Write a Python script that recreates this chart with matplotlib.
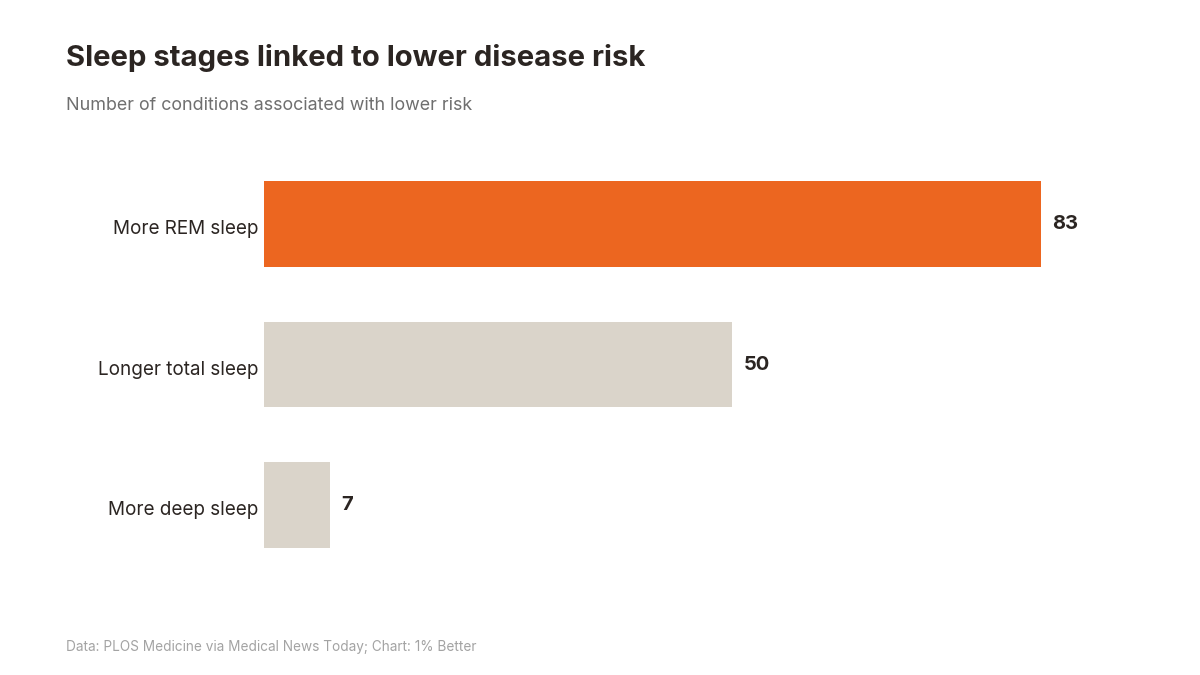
import matplotlib.pyplot as plt
from matplotlib.transforms import ScaledTranslation

categories = ['More REM sleep', 'Longer total sleep', 'More deep sleep']
values = [83, 50, 7]
bar_colors = ['#EC6620', '#DAD4CA', '#DAD4CA']

title = 'Sleep stages linked to lower disease risk'
subtitle = 'Number of conditions associated with lower risk'
source = 'Data: PLOS Medicine via Medical News Today; Chart: 1% Better'

plt.rcParams['font.family'] = ['Inter', 'DejaVu Sans']

fig = plt.figure(figsize=(12, 6.75), dpi=100)
fig.patch.set_facecolor('white')

# axes placed so the bars start at ~264px and 83 ends at ~1041px
ax = fig.add_axes([0.22, 0.1478, 0.6475, 0.6244])
pos = list(range(len(categories)))
ax.barh(pos, values, height=0.612, color=bar_colors)
ax.set_xlim(0, 83)
ax.set_ylim(2.5, -0.5)

for p, v in zip(pos, values):
    ax.text(v + 1.2, p, str(v), va='center', ha='left', fontsize=14.5,
            fontweight='bold', color='#2B2522', clip_on=False)

ax.set_yticks(pos)
ax.set_yticklabels(categories, fontsize=13.6, color='#2B2522')
ax.tick_params(axis='y', length=0, pad=4)
# labels sit a touch lower than bar centres in the original
for lbl in ax.get_yticklabels():
    lbl.set_transform(lbl.get_transform() + ScaledTranslation(0, -0.03, fig.dpi_scale_trans))
ax.set_xticks([])
for s in ax.spines.values():
    s.set_visible(False)

fig.text(66 / 1200, 1 - 58 / 675, title, fontsize=21.1, fontweight='bold',
         color='#2B2522', va='center', ha='left')
fig.text(66 / 1200, 1 - 105 / 675, subtitle, fontsize=12.9, color='#6F6F6F',
         va='center', ha='left')
fig.text(66 / 1200, 1 - 647 / 675, source, fontsize=9.8, color='#A3A3A3',
         va='center', ha='left')

fig.savefig('out.png', dpi=100)
